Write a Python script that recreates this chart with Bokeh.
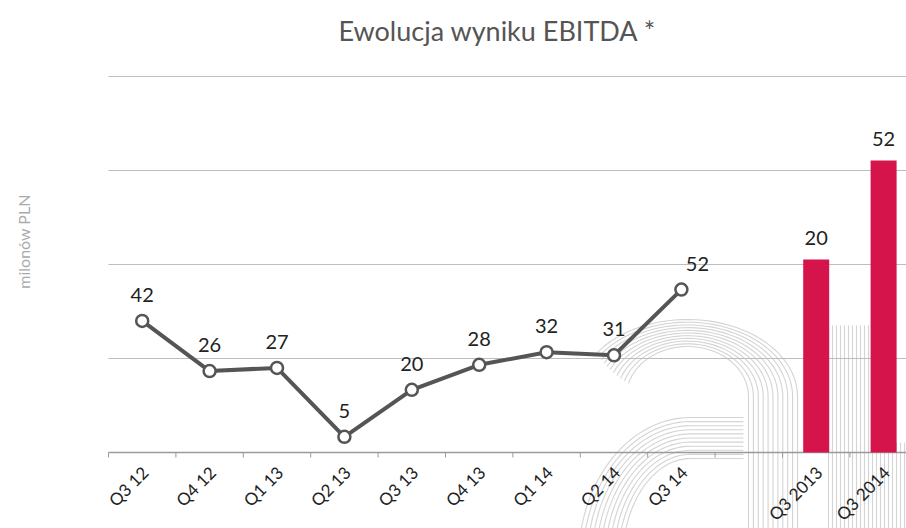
from math import pi
import numpy as np
from bokeh.plotting import figure
from bokeh.models import (ColumnDataSource, Range1d, LabelSet, Label)
from bokeh.core.properties import value
from bokeh.embed import file_html
from bokeh.resources import INLINE

# ---- data ----
line_cats = ["Q3 12", "Q4 12", "Q1 13", "Q2 13", "Q3 13", "Q4 13", "Q1 14", "Q2 14", "Q3 14"]
line_vals = [42, 26, 27, 5, 20, 28, 32, 31, 52]
gap_cats = [""]
bar_cats = ["Q3 2013", "Q3 2014"]
bar_vals = [20, 52]            # printed values
bar_heights = [61.6, 93.2]     # drawn heights (line scale)
y_grid = [30, 60, 90, 120]

cats = line_cats + gap_cats + bar_cats
pos = [i + 0.5 for i in range(len(cats))]
line_pos = pos[:len(line_cats)]
bar_pos = pos[len(line_cats) + len(gap_cats):]
bounds = list(range(len(cats) + 1))

# ---- layout (pixels) ----
W, H = 906, 528
AXIS_Y = 452          # pixel row of the baseline
X0 = 108              # pixel column of the first category boundary
slot = 67.4           # px per category
upp = 30 / 94.0       # value units per pixel
x_start = -X0 / slot
x_end = (W - X0) / slot
y_start = -(H - AXIS_Y) * upp
y_end = AXIS_Y * upp


def px(x):
    return (np.asarray(x, dtype=float) - X0) / slot


def py(y):
    return (AXIS_Y - np.asarray(y, dtype=float)) * upp


p = figure(width=W, height=H, output_backend="svg", toolbar_location=None,
           x_range=Range1d(x_start, x_end), y_range=Range1d(y_start, y_end),
           min_border=0, outline_line_color=None)
p.background_fill_color = "white"
p.grid.grid_line_color = None
p.xaxis.visible = False
p.yaxis.visible = False

# ---- faint background logo (decoration) ----
wm_x, wm_y = [], []
n = 11
for k in range(n):
    t = k / (n - 1)
    # upper arch of the "a" and its stem
    a = 61 + t * (110 - 61)
    b = 50 + t * (77 - 50)
    cx, cy = 687, 396
    th = np.linspace(np.radians(165 - t * 20), 0, 40)
    xs = list(cx + a * np.cos(th)) + [cx + a]
    ys = list(cy - b * np.sin(th)) + [540]
    wm_x.append(px(xs)); wm_y.append(py(ys))
    # lower bowl of the "a"
    ytop = 417 + t * 41
    bx, by = 690, 560
    a2 = 112 - t * 44
    b2 = by - ytop
    th2 = np.linspace(np.pi / 2, np.pi, 30)
    xs2 = [743] + list(bx + a2 * np.cos(th2))
    ys2 = [ytop] + list(by - b2 * np.sin(th2))
    wm_x.append(px(xs2)); wm_y.append(py(ys2))
# vertical stripe blocks
for xv in np.arange(828, 871, 4):
    wm_x.append(px([xv, xv])); wm_y.append(py([325, 540]))
for xv in np.arange(852, 907, 4):
    wm_x.append(px([xv, xv])); wm_y.append(py([442, 540]))
p.multi_line(xs=[list(v) for v in wm_x], ys=[list(v) for v in wm_y],
             line_color="#d4d4d4", line_width=1.1)

# grid lines and baseline
p.segment(x0=[0] * len(y_grid), x1=[x_end] * len(y_grid), y0=y_grid, y1=y_grid,
          line_color="#bdbdbd", line_width=1)
p.segment(x0=[0], x1=[x_end], y0=[0], y1=[0], line_color="#9a9a9a", line_width=1.5)
# tick marks at category boundaries
p.segment(x0=bounds, x1=bounds, y0=[0] * len(bounds), y1=[-5 * upp] * len(bounds),
          line_color="#9a9a9a", line_width=1)
# category labels
csrc = ColumnDataSource(dict(x=pos, y=[0] * len(pos), lab=cats))
p.add_layout(LabelSet(x="x", y="y", text="lab", source=csrc, angle=pi / 4,
                      x_offset=3, y_offset=-17, text_align="right", text_baseline="middle",
                      text_font=value("Lato"), text_font_size="17px", text_color="#222222"))

# bars
bsrc = ColumnDataSource(dict(x=bar_pos, top=bar_heights, lab=[str(v) for v in bar_vals]))
p.vbar(x="x", top="top", width=26 / slot, source=bsrc, fill_color="#D4144A", line_color=None)
p.add_layout(LabelSet(x="x", y="top", text="lab", source=bsrc, y_offset=21,
                      text_align="center", text_baseline="middle", text_font=value("Lato"),
                      text_font_size="20px", text_color="#222222"))

# line
lab_dx = [0] * (len(line_vals) - 1) + [16]
lsrc = ColumnDataSource(dict(x=line_pos, y=line_vals, lab=[str(v) for v in line_vals],
                             dx=lab_dx))
p.line(x="x", y="y", source=lsrc, line_color="#555555", line_width=4)
p.scatter(x="x", y="y", source=lsrc, size=12, fill_color="white", line_color="#555555",
          line_width=2.5)
p.add_layout(LabelSet(x="x", y="y", text="lab", source=lsrc, y_offset=26, x_offset="dx",
                      text_align="center", text_baseline="middle", text_font=value("Lato"),
                      text_font_size="20px", text_color="#222222"))

# title
p.add_layout(Label(x=(497 - X0) / slot, y=(AXIS_Y - 30) * upp, text="Ewolucja wyniku EBITDA *",
                   text_align="center", text_baseline="middle", text_font="Lato",
                   text_font_size="27px", text_color="#555555"))

# y axis title
p.add_layout(Label(x=(23 - X0) / slot, y=(AXIS_Y - 241) * upp, text="milonów PLN",
                   angle=pi / 2, text_align="center", text_baseline="middle",
                   text_font="Lato", text_font_size="16px", text_color="#aaaaaa"))

open("out.html", "w").write(file_html(p, INLINE))
